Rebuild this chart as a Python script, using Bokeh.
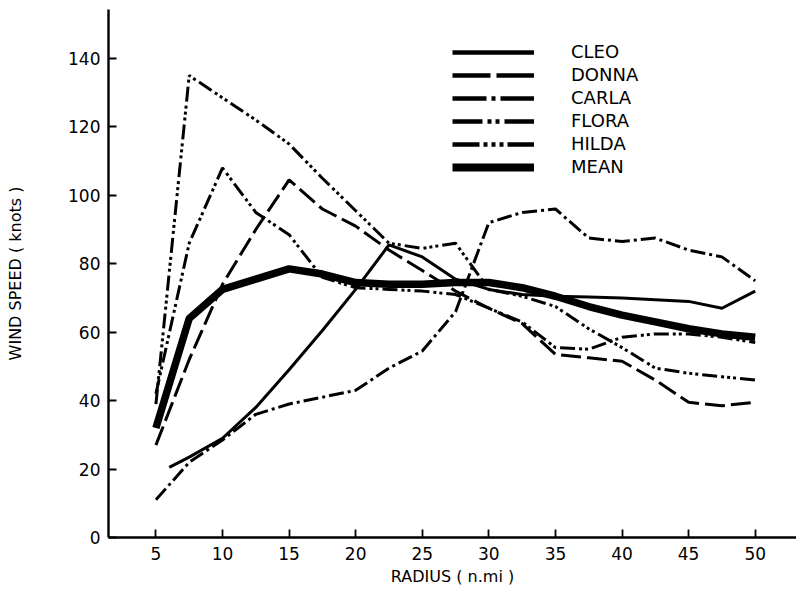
from bokeh.plotting import figure
from bokeh.models import Range1d, FixedTicker, Legend, LegendItem, ColumnDataSource
from bokeh.embed import file_html
from bokeh.resources import INLINE

# ---- data ----
radius = [5, 7.5, 10, 12.5, 15, 17.5, 20, 22.5, 25, 27.5, 30, 32.5, 35, 37.5, 40, 42.5, 45, 47.5, 50]
cleo_radius = [6, 7.5, 10, 12.5, 15, 17.5, 20, 22.5, 25, 27.5, 30, 32.5, 35, 37.5, 40, 42.5, 45, 47.5, 50]

cleo  = [20.5, 23.5, 29, 38, 49, 60.5, 72.5, 85.5, 82, 75.5, 72.5, 71, 70.5, 70.3, 70, 69.5, 69, 67, 72]
donna = [27, 52, 74, 90, 104.5, 96, 91, 84, 78, 72, 67, 62.5, 53.5, 52.5, 51.5, 46, 39.5, 38.5, 39.5]
carla = [11, 22, 28.5, 36, 39, 41, 43, 49.5, 54.5, 66, 92, 95, 96, 87.5, 86.5, 87.5, 84, 82, 75]
flora = [42, 86, 108, 95, 88.5, 76, 73, 72.5, 72, 71, 67, 63, 55.5, 55, 58.5, 59.5, 59.5, 58.5, 57]
hilda = [39, 135, 128.5, 122, 115, 105, 95.5, 86, 84.5, 86, 72.5, 70.5, 67.5, 61, 55.5, 49.5, 48, 47, 46]
mean  = [32, 64, 72.5, 75.5, 78.5, 77, 74.5, 74, 74, 74.5, 74.5, 73, 70.5, 67.5, 65, 63, 61, 59.5, 58.5]

labels = ["CLEO", "DONNA", "CARLA", "FLORA", "HILDA", "MEAN"]
x_ticks = [5, 10, 15, 20, 25, 30, 35, 40, 45, 50]
y_ticks = [0, 20, 40, 60, 80, 100, 120, 140]

FONT = "DejaVu Sans"

p = figure(width=796, height=591, output_backend="svg", toolbar_location=None,
           x_range=Range1d(1.44, 53.1), y_range=Range1d(0, 154.3),
           min_border_left=108, min_border_right=0, min_border_top=9, min_border_bottom=54)

p.grid.grid_line_color = None
p.outline_line_color = None
p.background_fill_color = "white"

p.xaxis.ticker = FixedTicker(ticks=x_ticks)
p.yaxis.ticker = FixedTicker(ticks=y_ticks)
p.axis.major_tick_in = 8
p.axis.major_tick_out = 0
p.axis.minor_tick_line_color = None
p.axis.axis_line_width = 2.4
p.axis.axis_line_color = "black"
p.axis.major_tick_line_width = 1.8
p.axis.major_tick_line_color = "black"
p.axis.major_label_text_font = FONT
p.axis.major_label_text_font_size = "17px"
p.axis.major_label_text_color = "black"
p.xaxis.major_label_standoff = 9
p.yaxis.major_label_standoff = 8

p.xaxis.axis_label = "RADIUS ( n.mi )"
p.yaxis.axis_label = "WIND SPEED ( knots )"
p.axis.axis_label_text_font = FONT
p.axis.axis_label_text_font_style = "normal"
p.axis.axis_label_text_font_size = "16px"
p.axis.axis_label_text_color = "black"
p.xaxis.axis_label_standoff = 4
p.yaxis.axis_label_standoff = 40

LW = 3
p.line(cleo_radius, cleo, line_color="black", line_width=LW)
p.line(radius, donna, line_color="black", line_width=LW, line_dash="20 6")
p.line(radius, carla, line_color="black", line_width=LW, line_dash="15 4 3 4")
p.line(radius, flora, line_color="black", line_width=LW, line_dash="15 4 3 3 3 4")
p.line(radius, hilda, line_color="black", line_width=LW, line_dash="15 4 3 3 3 3 3 4")
p.line(radius, mean, line_color="black", line_width=7.5)

# legend key samples (invisible-in-plot renderers, styled like the hand-drawn key)
key_styles = [
    dict(line_width=4.5, line_dash="solid"),
    dict(line_width=4.5, line_dash="38 6"),
    dict(line_width=4.5, line_dash="34 5 4 5"),
    dict(line_width=4.5, line_dash="30 5 4 4 4 5"),
    dict(line_width=4.5, line_dash="27 4 4 4 4 4 4 4"),
    dict(line_width=8, line_dash="solid"),
]
items = []
for lab, st in zip(labels, key_styles):
    src = ColumnDataSource(data=dict(x=[float("nan")], y=[float("nan")]))
    r = p.line("x", "y", source=src, line_color="black", **st)
    items.append(LegendItem(label=lab, renderers=[r]))

legend = Legend(items=items, location=(344, 360), glyph_width=82, glyph_height=20,
                label_height=20, spacing=2, label_standoff=37, padding=0, margin=0,
                border_line_color=None, background_fill_alpha=0,
                label_text_font=FONT, label_text_font_size="18px", label_text_color="black")
p.add_layout(legend)

open("out.html", "w").write(file_html(p, INLINE))
